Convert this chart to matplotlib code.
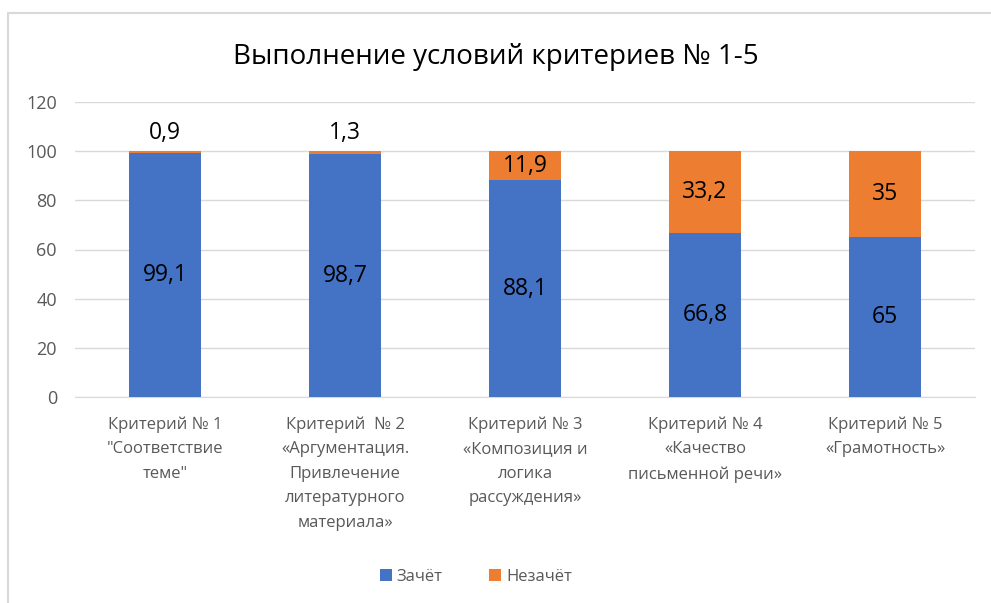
import numpy as np
import matplotlib
matplotlib.use('Agg')
import matplotlib.pyplot as plt
from matplotlib.patches import Rectangle

categories = [
    'Критерий № 1\n"Соответствие\nтеме"',
    'Критерий  № 2\n«Аргументация.\nПривлечение\nлитературного\nматериала»',
    'Критерий № 3\n«Композиция и\nлогика\nрассуждения»',
    'Критерий № 4\n«Качество\nписьменной речи»',
    'Критерий № 5\n«Грамотность»',
]
passed = [99.1, 98.7, 88.1, 66.8, 65]
failed = [0.9, 1.3, 11.9, 33.2, 35]
yticks = [0, 20, 40, 60, 80, 100, 120]

BLUE = '#4472C4'
ORANGE = '#ED7D31'
GRID = '#D9D9D9'
TICK = '#595959'

plt.rcParams['font.family'] = ['Open Sans', 'DejaVu Sans']

fig = plt.figure(figsize=(9.91, 6.03), dpi=100)
ax = fig.add_axes([75 / 991, 1 - 397 / 603, 900 / 991, 295 / 603])

# outer chart frame (light gray)
fig.patches.append(Rectangle((8 / 991, -0.05), 1.1, 1 - 13 / 603 + 0.05,
                             transform=fig.transFigure, fill=False,
                             edgecolor=GRID, linewidth=1.5))

x = np.arange(len(categories))
w = 0.4
b1 = ax.bar(x, passed, w, color=BLUE, label='Зачёт', zorder=3)
b2 = ax.bar(x, failed, w, bottom=passed, color=ORANGE, label='Незачёт', zorder=3)

for i in range(len(x)):
    ax.text(x[i], passed[i] / 2, f'{passed[i]:g}'.replace('.', ','),
            ha='center', va='center', fontsize=16.5, color='black', zorder=4)
    lbl = f'{failed[i]:g}'.replace('.', ',')
    if failed[i] < 5:
        ax.text(x[i], passed[i] + failed[i] + 2.5, lbl,
                ha='center', va='bottom', fontsize=16.5, color='black', zorder=4)
    else:
        ax.text(x[i], passed[i] + failed[i] / 2, lbl,
                ha='center', va='center', fontsize=16.5, color='black', zorder=4)

ax.set_xlim(-0.5, len(categories) - 0.5)
ax.set_ylim(0, 120)
ax.set_yticks(yticks)
ax.yaxis.grid(True, color=GRID, linewidth=1, zorder=0)
ax.set_xticks(x)
ax.set_xticklabels(categories, fontsize=12, color=TICK, linespacing=1.7, va='top')
ax.tick_params(axis='y', labelsize=13, colors=TICK, length=0, pad=13)
ax.tick_params(axis='x', length=0, pad=14)
for s in ['top', 'right', 'left']:
    ax.spines[s].set_visible(False)
ax.spines['bottom'].set_color(GRID)
ax.spines['bottom'].set_zorder(1)

fig.suptitle('Выполнение условий критериев № 1-5', fontsize=20, y=1 - 57 / 603,
             va='center', color='black')

fig.legend(handles=[b1, b2], loc='center', bbox_to_anchor=(476 / 991, 1 - 577 / 603),
           ncol=2, frameon=False, fontsize=12, handlelength=0.7, handleheight=0.7,
           columnspacing=2.8, handletextpad=0.3, labelcolor=TICK)

fig.savefig('out.png', dpi=100)
